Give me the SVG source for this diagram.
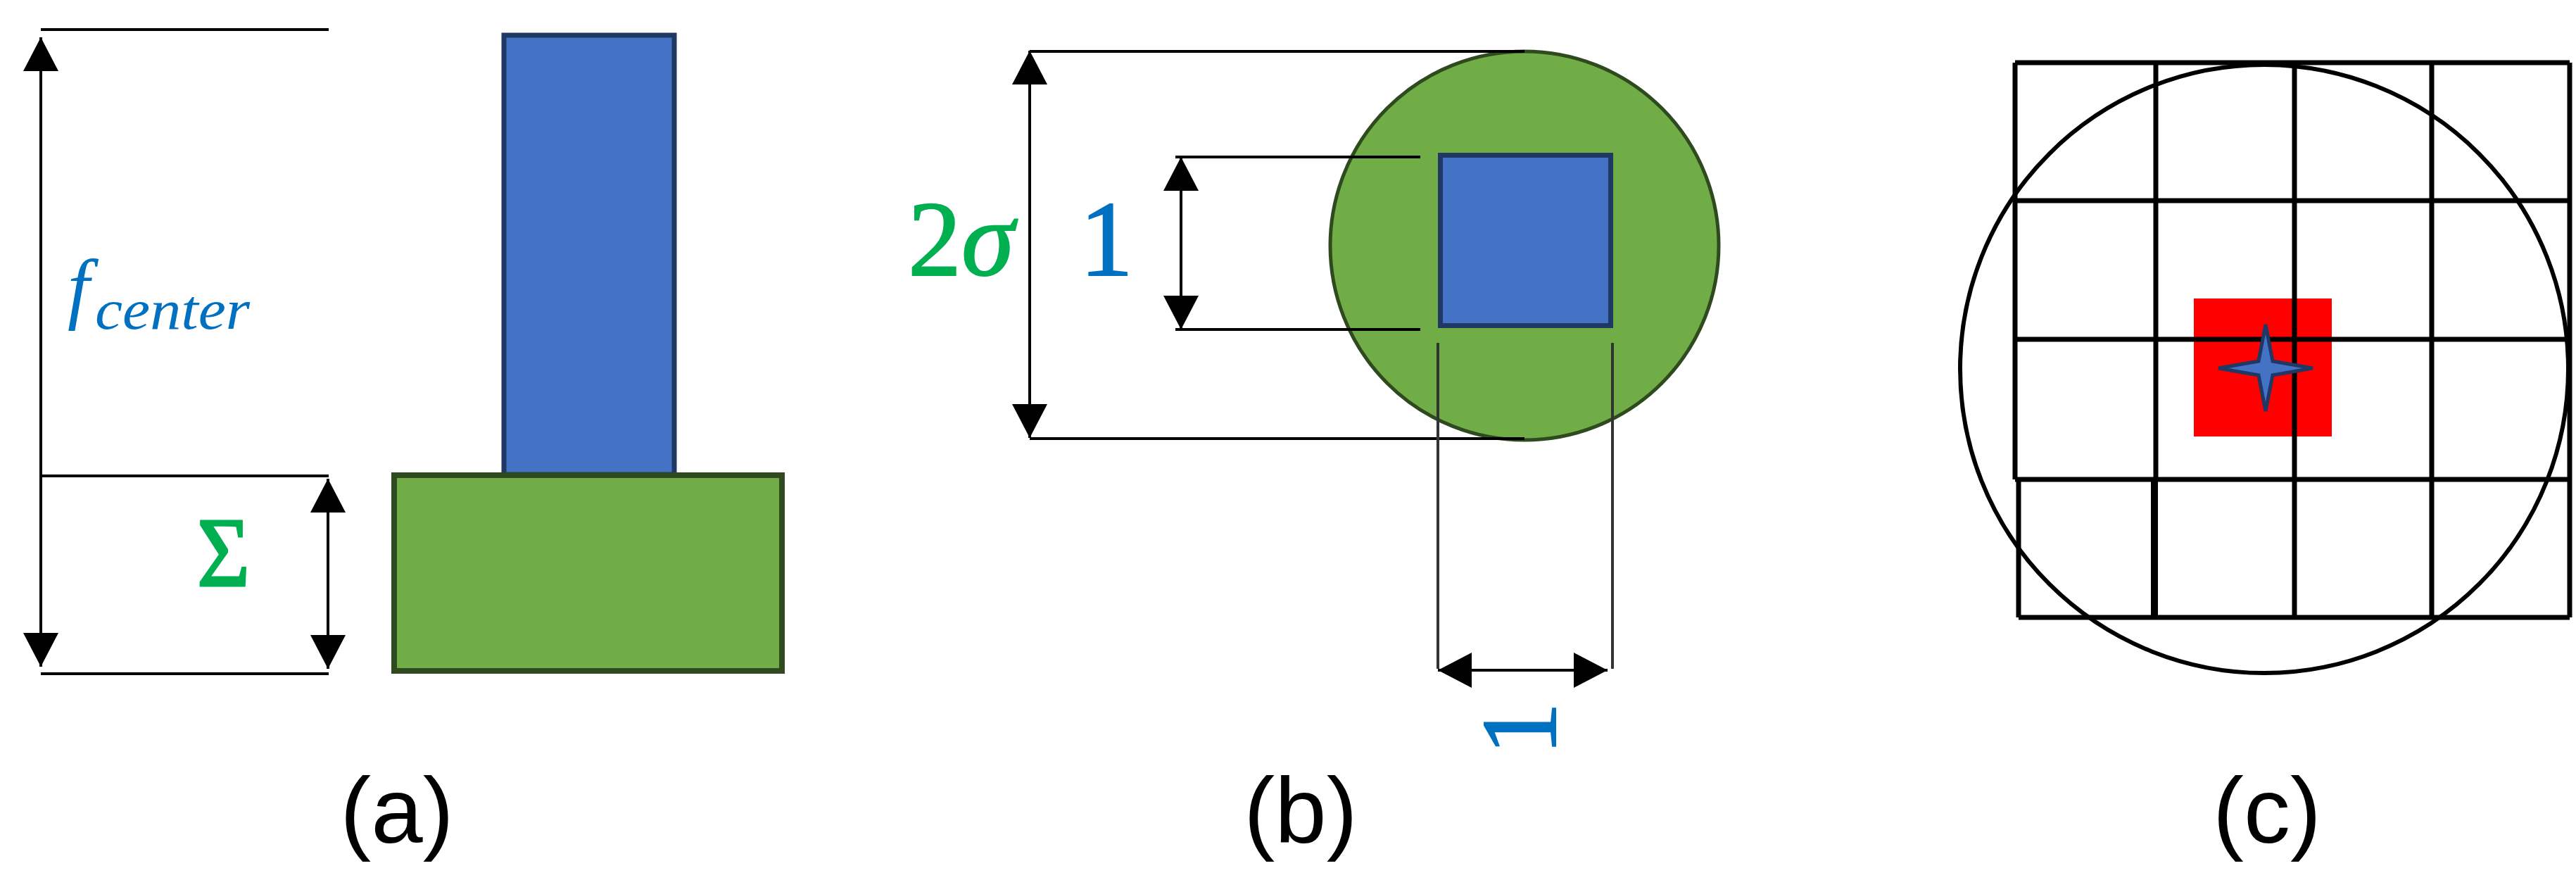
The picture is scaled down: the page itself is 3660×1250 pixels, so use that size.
<svg xmlns="http://www.w3.org/2000/svg" width="3660" height="1250" viewBox="0 0 3660 1250">
<defs>
<style>
.ln{stroke:#000;stroke-width:4;fill:none}
.dim{stroke:#000;stroke-width:4;fill:none;marker-start:url(#ah);marker-end:url(#ah)}
.ext{stroke:#333;stroke-width:4;fill:none}
.grid{stroke:#000;stroke-width:7;fill:none}
.blue{fill:#4472C4;stroke:#1F3864;stroke-width:7}
.green{fill:#70AD47;stroke:#2F4A1E;stroke-width:8}
.math{font-family:"Liberation Serif","DejaVu Serif",serif}
.lab{font-family:"Liberation Sans","DejaVu Sans",sans-serif;font-size:132px;fill:#000;text-anchor:middle}
</style>
<marker id="ah" viewBox="0 0 48 50" refX="48" refY="25" markerWidth="48" markerHeight="50" markerUnits="userSpaceOnUse" orient="auto-start-reverse">
<path d="M0,0 L48,25 L0,50 Z" fill="#000"/>
</marker>
</defs>
<rect width="3660" height="1250" fill="#fff"/>

<g id="panel-a">
<g id="a-column"><rect class="blue" x="716" y="50" width="242" height="624"/></g>
<g id="a-base"><rect class="green" x="560" y="675" width="551" height="278"/></g>
<text id="a-fcenter" class="math" fill="#0070C0"><tspan x="96" y="446" font-size="112" font-style="italic">f</tspan><tspan x="135" y="467" font-size="80" font-style="italic" textLength="220" lengthAdjust="spacingAndGlyphs">center</tspan></text>
<text id="a-sigma" class="math" x="280" y="832" font-size="140" fill="#00B050" stroke="#00B050" stroke-width="3" textLength="75" lengthAdjust="spacingAndGlyphs">Σ</text>
<text class="lab" x="564" y="1197">(a)</text>
</g>

<g id="panel-b">
<g id="b-circle"><circle cx="2166" cy="349" r="276" fill="#70AD47" stroke="#2F4A1E" stroke-width="5"/></g>
<g id="b-square"><rect class="blue" x="2046.5" y="220.5" width="242" height="242"/></g>
<text id="b-2sigma" class="math" x="1290" y="391" font-size="152" fill="#00B050" stroke="#00B050" stroke-width="2">2<tspan font-style="italic">σ</tspan></text>
<text id="b-1" class="math" x="1572" y="391" font-size="152" fill="#0070C0" stroke="#0070C0" stroke-width="2" text-anchor="middle">1</text>
<text id="b-1r" class="math" font-size="152" fill="#0070C0" stroke="#0070C0" stroke-width="2" text-anchor="middle" transform="translate(2210,1035) rotate(-90)">1</text>
<text class="lab" x="1848" y="1197">(b)</text>
</g>

<g id="panel-c">
<rect id="c-red" x="3117" y="424" width="196" height="196" fill="#FF0000"/>
<g id="c-grid">
<path class="grid" d="M2863,89 H3651 M2863,285 H3651 M2863,482 H3651 M2863,681 H3651 M2868,877 H3651 M2863,89 V681 M2868,681 V877 M3063,89 V681 M3260,89 V877 M3455,89 V877 M3651,89 V877"/>
<path d="M3061,681 V877" stroke="#000" stroke-width="10" fill="none"/>
</g>
<path id="c-star" d="M3219,461 L3229,513 L3286,523 L3229,533 L3219,584 L3209,533 L3152,523 L3209,513 Z" fill="#4472C4" stroke="#1F3864" stroke-width="5" stroke-linejoin="miter"/>
<circle id="c-circle" cx="3217" cy="524" r="432" fill="none" stroke="#000" stroke-width="6"/>
<text class="lab" x="3221" y="1197">(c)</text>
</g>

<g id="connectors">
<path class="ln" d="M58,42 H467 M58,676 H467 M58,957 H467"/>
<path class="dim" d="M58,53 V947"/>
<path class="dim" d="M466,680 V950"/>
<path class="ln" d="M1463,73 H2166 M1463,623 H2166 M1670,223 H2018 M1670,468 H2018"/>
<path class="dim" d="M1463,72 V622"/>
<path class="dim" d="M1678,223 V468"/>
<path class="ext" d="M2043,487 V950 M2291,487 V950"/>
<path class="dim" d="M2043,952 H2284"/>
</g>
</svg>
